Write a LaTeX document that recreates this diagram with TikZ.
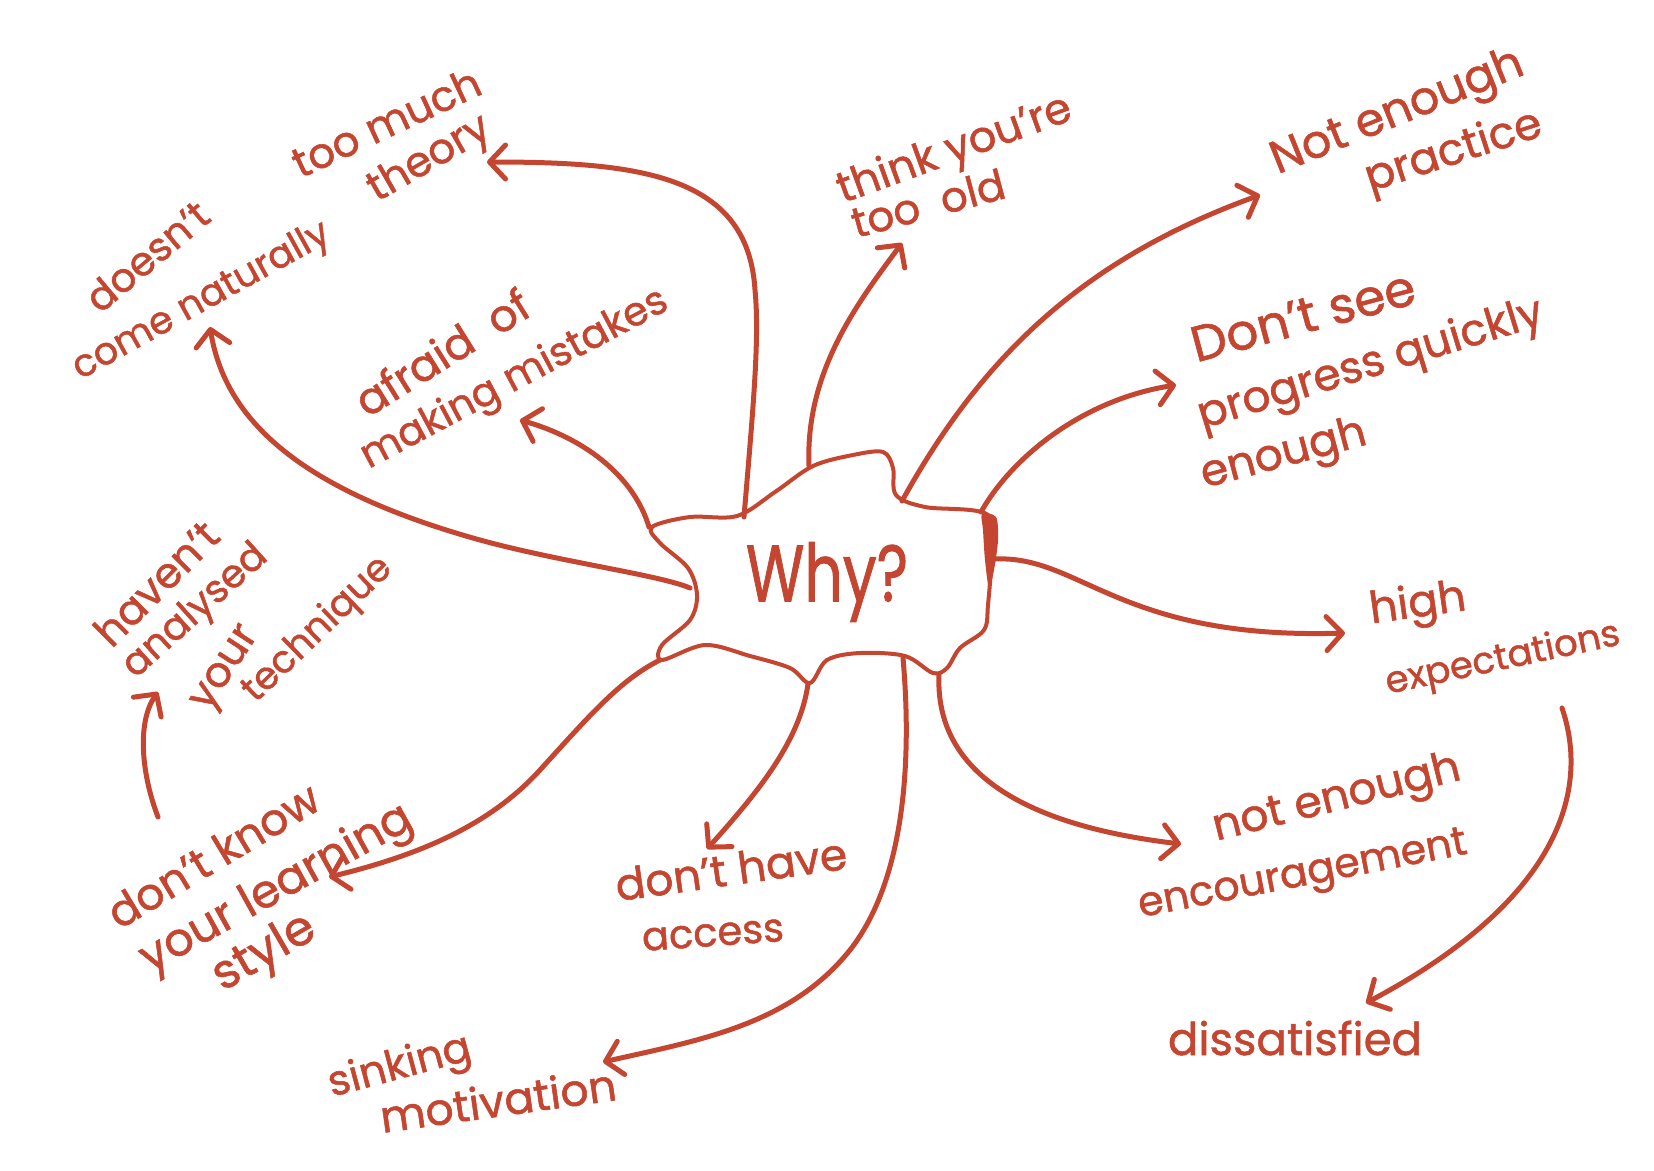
\documentclass[tikz,border=0pt]{standalone}
\usepackage{fontspec}
\setmainfont{Poppins}[FakeBold=1.2]
\usetikzlibrary{arrows.meta}
\definecolor{ink}{RGB}{197,70,48}
\begin{document}
\begin{tikzpicture}[x=1pt,y=-1pt,
  arr/.style={draw=ink, line width=5pt, line cap=round,
    -{Straight Barb[length=16pt,width=34pt,round]}},
  lbl/.style={text=ink, inner sep=0pt, font=\fontsize{#1}{#1}\selectfont},
  lbl/.default=40,
  blobline/.style={draw=ink, line width=4pt, line join=round}
]
\useasboundingbox[fill=white] (0,0) rectangle (1654,1170);

% central blob
\draw[blobline] plot[smooth cycle, tension=0.55] coordinates {
 (652,527) (690,517) (737,516) (775,492) (813,466) (853,455) (883,452)
 (893,468) (896,495) (925,507) (988,515) (991,560) (988,605) (984,630)
 (960,648) (947,668) (933,673) (905,656) (860,653) (827,660) (810,683)
 (790,668) (750,656) (705,645) (662,660) (662,645) (690,620) (697,595)
 (688,568) (660,543)};
\fill[ink] plot[smooth cycle, tension=0.5] coordinates {
 (982,514) (996,517) (998,540) (994,570) (989,588) (985,560) (983,530)};
\node[lbl=80] (why) at (827,582) {\scalebox{0.75}[1]{Why?}};

% connector end points
\coordinate (s1) at (744,517);  \coordinate (e1) at (487,162);
\coordinate (s2) at (690,588);  \coordinate (e2) at (210,327);
\coordinate (s3) at (649,527);  \coordinate (e3) at (520,420);
\coordinate (s4) at (809,466);  \coordinate (e4) at (902,243);
\coordinate (s5) at (902,501);  \coordinate (e5) at (1260,195);
\coordinate (s6) at (981,512);  \coordinate (e6) at (1176,385);
\coordinate (s7) at (995,559);  \coordinate (e7) at (1345,633);
\coordinate (s8) at (939,675);  \coordinate (e8) at (1181,844);
\coordinate (s9) at (808,684);  \coordinate (e9) at (707,849);
\coordinate (s10) at (903,658); \coordinate (e10) at (603,1062);
\coordinate (s11) at (660,660); \coordinate (e11) at (329,877);
\coordinate (s12) at (158,817); \coordinate (e12) at (158,692);
\coordinate (s13) at (1562,708);\coordinate (e13) at (1366,1003);

% connectors
\draw[arr] (s1) .. controls (752,420) and (760,340) .. (755,290)
               .. controls (748,175) and (640,162) .. (e1);
\draw[arr] (s2) .. controls (660,575) and (560,562) .. (480,540)
               .. controls (300,490) and (225,420) .. (e2);
\draw[arr] (s3) .. controls (635,480) and (590,440) .. (e3);
\draw[arr] (s4) .. controls (805,370) and (860,300) .. (e4);
\draw[arr] (s5) .. controls (980,360) and (1080,260) .. (e5);
\draw[arr] (s6) .. controls (1010,460) and (1080,400) .. (e6);
\draw[arr] (s7) .. controls (1080,555) and (1120,640) .. (e7);
\draw[arr] (s8) .. controls (935,770) and (1020,825) .. (e8);
\draw[arr] (s9) .. controls (800,740) and (760,790) .. (e9);
\draw[arr] (s10) .. controls (912,760) and (905,880) .. (850,950)
                .. controls (790,1025) and (700,1040) .. (e10);
\draw[arr] (s11) .. controls (620,680) and (590,715) .. (540,770)
                .. controls (490,825) and (420,855) .. (e11);
\draw[arr] (s12) .. controls (140,770) and (138,720) .. (e12);
\draw[arr] (s13) .. controls (1590,790) and (1560,900) .. (e13);

% labels
\node[lbl=42, rotate=25] (t1a) at (386,122) {too much};
\node[lbl=42, rotate=30] (t1b) at (430,160) {theory};
\node[lbl=40, rotate=40] (t2a) at (147,256) {doesn't};
\node[lbl=38, rotate=29] (t2b) at (202,302) {come naturally};
\node[lbl=44, rotate=32] (t3a) at (442,352) {afraid\ \ of};
\node[lbl=40, rotate=28] (t3b) at (515,380) {making mistakes};
\node[lbl=43, rotate=20] (t4a) at (955,151) {think you're};
\node[lbl=42, rotate=15] (t4b) at (928,203) {too\ \ old};
\node[lbl=46, rotate=22] (t5a) at (1398,114) {Not enough};
\node[lbl=44, rotate=18] (t5b) at (1454,153) {practice};
\node[lbl=50, rotate=15] (t6a) at (1303,316) {Don't see};
\node[lbl=44, rotate=17] (t6b) at (1371,366) {progress quickly};
\node[lbl=44, rotate=15] (t6c) at (1284,456) {enough};
\node[lbl=44, rotate=8]  (t7a) at (1418,606) {high};
\node[lbl=37, rotate=12] (t7b) at (1503,660) {expectations};
\node[lbl=44, rotate=14] (t8a) at (1337,800) {not enough};
\node[lbl=41, rotate=11] (t8b) at (1303,877) {encouragement};
\node[lbl=44, rotate=8]  (t9a) at (731,869) {don't have};
\node[lbl=40, rotate=4]  (t9b) at (713,935) {access};
\node[lbl=42, rotate=15] (t10a) at (400,1068) {sinking};
\node[lbl=44, rotate=8]  (t10b) at (498,1100) {motivation};
\node[lbl=44, rotate=31] (t11a) at (213,855) {don't know};
\node[lbl=46, rotate=29] (t11b) at (277,890) {your learning};
\node[lbl=48, rotate=30] (t11c) at (265,954) {style};
\node[lbl=42, rotate=45] (t12a) at (156,583) {haven't};
\node[lbl=39, rotate=42] (t12b) at (196,612) {analysed};
\node[lbl=42, rotate=57] (t12c) at (228,670) {your};
\node[lbl=38, rotate=44] (t12d) at (318,630) {technique};
\node[lbl=45, rotate=0]  (t13) at (1295,1038) {dissatisfied};
\end{tikzpicture}
\end{document}
